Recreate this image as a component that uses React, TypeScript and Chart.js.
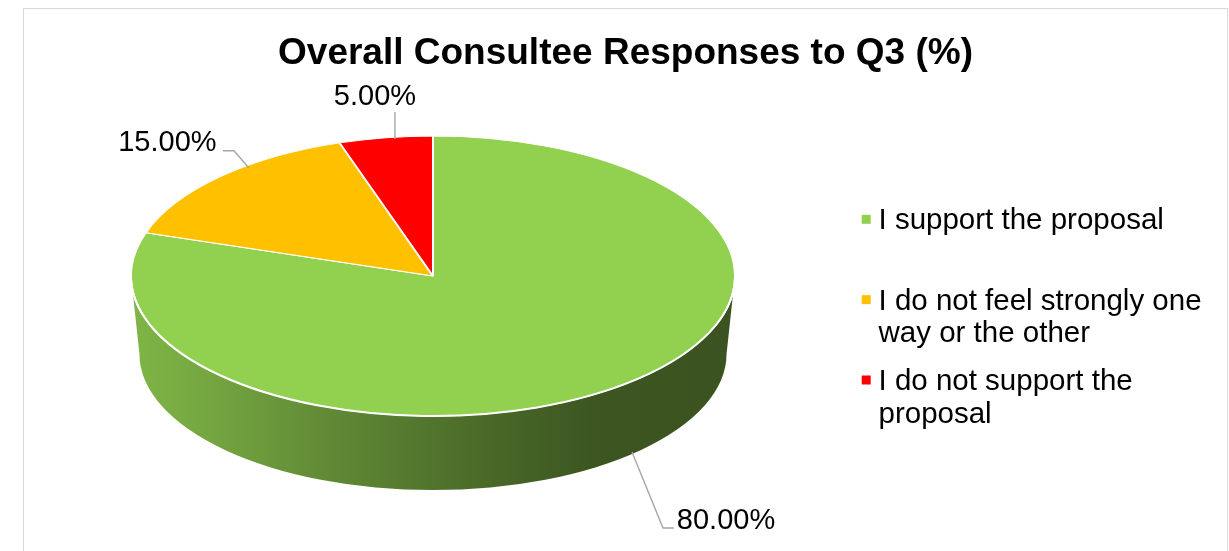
import React, { useEffect, useRef } from 'react';
import { Chart, registerables } from 'chart.js';

Chart.register(...registerables);

// ---------- data ----------
const TITLE = 'Overall Consultee Responses to Q3 (%)';
const CATEGORIES = [
  'I support the proposal',
  'I do not feel strongly one way or the other',
  'I do not support the proposal',
];
const VALUES = [80, 15, 5];
const COLORS = ['#92D050', '#FFC000', '#FF0000'];

// ---------- layout / style ----------
const W = 1203;
const H = 542;
const FONT = '"Liberation Sans", Arial, Helvetica, sans-serif';
const PIE_RADIUS = 302;
const TILT = 140 / 302;
const DEPTH = 78;
const BOTTOM_SCALE = 0.972;
const LEADER_COLOR = '#A6A6A6';

// leader polyline and text offsets relative to the slice's mid-angle rim point
const LABEL_LAYOUT: { leader: number[][]; text: number[]; align: CanvasTextAlign }[] = [
  { leader: [[21.5, 62.7], [52.5, 138.7], [63.5, 138.7]], text: [66.3, 139.7], align: 'left' },
  { leader: [[29.5, -9], [14.5, -26.3], [3.5, -26.3]], text: [-2.9, -26.3], align: 'right' },
  { leader: [[9.2, 1.3], [9.2, -25.7]], text: [-10.8, -32.7], align: 'center' },
];

// brightness along the side wall (fraction across pie width -> factor)
const SIDE_SHADE: number[][] = [
  [0, 0.87], [0.114, 0.81], [0.33, 0.66], [0.445, 0.59], [0.66, 0.465], [0.776, 0.41], [1, 0.4],
];

const LEGEND = { markerX: 837.7, markerSize: 9, textX: 854.5, firstBaseline: 220.3, step: 80.35, lineH: 32.7, maxW: 345, font: 29.5 };

function shade(hex: string, f: number) {
  const n = parseInt(hex.slice(1), 16);
  const r = Math.round(((n >> 16) & 255) * f);
  const g = Math.round(((n >> 8) & 255) * f);
  const b = Math.round((n & 255) * f);
  return `rgb(${r},${g},${b})`;
}

function frontRanges(s: number, e: number) {
  const out: number[][] = [];
  for (let k = -1; k <= 1; k++) {
    const lo = Math.max(s, k * 2 * Math.PI);
    const hi = Math.min(e, k * 2 * Math.PI + Math.PI);
    if (hi > lo) out.push([lo, hi]);
  }
  return out;
}

function wrap(ctx: CanvasRenderingContext2D, text: string, maxW: number) {
  const words = text.split(' ');
  const lines: string[] = [];
  let cur = '';
  for (const w of words) {
    const t = cur ? cur + ' ' + w : w;
    if (cur && ctx.measureText(t).width > maxW) {
      lines.push(cur);
      cur = w;
    } else cur = t;
  }
  if (cur) lines.push(cur);
  return lines;
}

const pie3d = {
  id: 'pie3d',
  beforeDatasetsDraw(chart: any) {
    const ctx: CanvasRenderingContext2D = chart.ctx;
    const arcs = chart.getDatasetMeta(0).data;
    if (!arcs.length) return;
    const cx = arcs[0].x;
    const cy = arcs[0].y;
    const r = arcs[0].outerRadius;
    const ry = r * TILT;
    ctx.save();
    arcs.forEach((arc: any) => {
      const color = arc.options.backgroundColor as string;
      for (const [a1, a2] of frontRanges(arc.startAngle, arc.endAngle)) {
        const g = ctx.createLinearGradient(cx - r, 0, cx + r, 0);
        SIDE_SHADE.forEach(([p, f]) => g.addColorStop(p, shade(color, f)));
        ctx.beginPath();
        ctx.ellipse(cx, cy, r, ry, 0, a1, a2, false);
        ctx.ellipse(cx, cy + DEPTH, r * BOTTOM_SCALE, ry * BOTTOM_SCALE, 0, a2, a1, true);
        ctx.closePath();
        ctx.fillStyle = g;
        ctx.fill();
      }
    });
    ctx.restore();
    ctx.save();
    ctx.translate(cx, cy);
    ctx.scale(1, TILT);
    ctx.translate(-cx, -cy);
  },
  afterDatasetsDraw(chart: any) {
    const ctx: CanvasRenderingContext2D = chart.ctx;
    ctx.restore();
    const arcs = chart.getDatasetMeta(0).data;
    if (!arcs.length) return;
    const cx = arcs[0].x;
    const cy = arcs[0].y;
    const r = arcs[0].outerRadius;
    const ry = r * TILT;

    // white rim on the front edge
    ctx.save();
    ctx.beginPath();
    ctx.ellipse(cx, cy, r, ry, 0, 0.03, Math.PI - 0.03, false);
    ctx.strokeStyle = '#FFFFFF';
    ctx.lineWidth = 2;
    ctx.stroke();
    ctx.restore();

    // data labels with leader lines
    const values = chart.data.datasets[0].data as number[];
    ctx.save();
    ctx.font = `29px ${FONT}`;
    ctx.fillStyle = '#000000';
    ctx.textBaseline = 'alphabetic';
    arcs.forEach((arc: any, i: number) => {
      const mid = (arc.startAngle + arc.endAngle) / 2;
      const ax = cx + r * Math.cos(mid);
      const ay = cy + ry * Math.sin(mid);
      const lay = LABEL_LAYOUT[i];
      ctx.beginPath();
      lay.leader.forEach(([dx, dy], j) => {
        if (j === 0) ctx.moveTo(ax + dx, ay + dy);
        else ctx.lineTo(ax + dx, ay + dy);
      });
      ctx.strokeStyle = LEADER_COLOR;
      ctx.lineWidth = 1.4;
      ctx.stroke();
      ctx.textAlign = lay.align;
      ctx.fillText(`${values[i].toFixed(2)}%`, ax + lay.text[0], ay + lay.text[1]);
    });
    ctx.restore();
  },
  afterDraw(chart: any) {
    const ctx: CanvasRenderingContext2D = chart.ctx;
    ctx.save();
    // title
    ctx.font = `bold 37px ${FONT}`;
    ctx.fillStyle = '#000000';
    ctx.textAlign = 'center';
    ctx.textBaseline = 'alphabetic';
    ctx.fillText(TITLE, chart.width / 2, 54.5);

    // legend
    const labels = chart.data.labels as string[];
    const colors = chart.data.datasets[0].backgroundColor as string[];
    ctx.font = `${LEGEND.font}px ${FONT}`;
    ctx.textAlign = 'left';
    labels.forEach((label, i) => {
      const base = LEGEND.firstBaseline + i * LEGEND.step;
      ctx.fillStyle = colors[i];
      ctx.fillRect(LEGEND.markerX, base - 10 - LEGEND.markerSize / 2, LEGEND.markerSize, LEGEND.markerSize);
      ctx.fillStyle = '#000000';
      wrap(ctx, label, LEGEND.maxW).forEach((line, j) => {
        ctx.fillText(line, LEGEND.textX, base + j * LEGEND.lineH);
      });
    });
    ctx.restore();
  },
};

export default function App() {
  const ref = useRef<HTMLCanvasElement>(null);
  useEffect(() => {
    if (!ref.current) return;
    const chart = new Chart(ref.current, {
      type: 'pie',
      data: {
        labels: CATEGORIES,
        datasets: [
          {
            data: VALUES,
            backgroundColor: COLORS,
            borderColor: '#FFFFFF',
            borderWidth: 2,
            radius: PIE_RADIUS,
            clip: false,
          } as any,
        ],
      },
      options: {
        responsive: false,
        animation: false,
        events: [],
        layout: { padding: { left: 0, right: 385, top: 0, bottom: 8 } },
        plugins: {
          legend: { display: false },
          title: { display: false },
          tooltip: { enabled: false },
        },
      },
      plugins: [pie3d],
    });
    return () => chart.destroy();
  }, []);

  return (
    <div
      style={{
        position: 'absolute',
        left: 23,
        top: 8,
        width: W + 2,
        height: H + 1,
        boxSizing: 'border-box',
        borderTop: '1px solid #D9D9D9',
        borderLeft: '1px solid #D9D9D9',
        borderRight: '1px solid #D9D9D9',
        background: '#FFFFFF',
        overflow: 'hidden',
      }}
    >
      <canvas ref={ref} width={W} height={H} style={{ display: 'block', width: W, height: H }} />
    </div>
  );
}
